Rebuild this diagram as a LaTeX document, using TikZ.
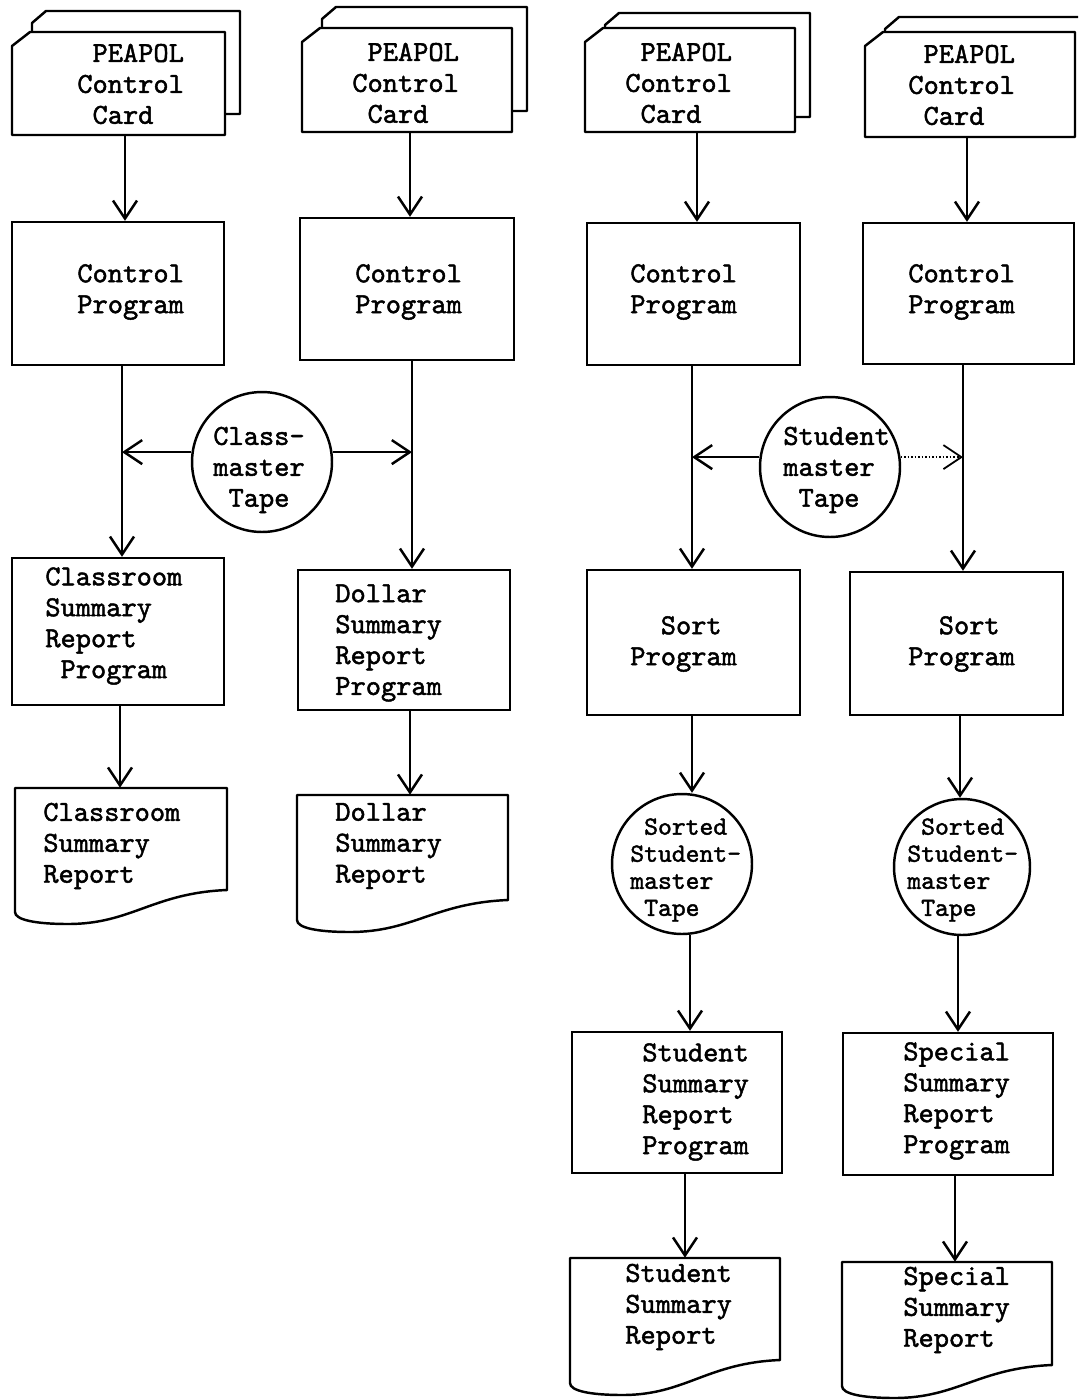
\documentclass[tikz,border=0pt]{standalone}
\usepackage{fontspec}
\newfontfamily\tw{lmmono10-regular.otf}[FakeBold=1.6]
\usetikzlibrary{arrows.meta,fit}
\tikzset{
  shp/.style={line width=1.4pt, line join=round},
  frame/.style={draw, line width=1.4pt, inner sep=0pt},
  tapenode/.style={draw, circle, line width=1.4pt, inner sep=0pt, minimum size=2.8cm},
  flow/.style={line width=1.4pt, -{Straight Barb[length=0.36cm, width=0.48cm]}},
  txt/.style={anchor=west, inner sep=0pt, align=left, font=\tw\fontsize{16.5}{17.6}\selectfont},
  tighttxt/.style={txt, font=\tw\fontsize{15}{15.4}\selectfont},
}
% card: name, L, T, R, B, back offset
\newcommand{\cardshape}[6]{%
  \node[inner sep=0pt, fit={(#2,#3)(#4,#5)}] (#1) {};
  \draw[shp] (#2,#3+14) -- (#2+18,#3) -- (#4,#3) -- (#4,#5) -- (#2,#5) -- cycle;
  \draw[shp] (#2+20,#3) -- (#2+20,#3-#6+12) -- (#2+34,#3-#6) -- (#4+15,#3-#6) -- (#4+15,#5-#6) -- (#4,#5-#6);
}
% document: name, L, T, R, right bottom, left bottom
\newcommand{\docshape}[6]{%
  \node[inner sep=0pt, fit={(#2,#3)(#4,#5)}] (#1) {};
  \pgfmathsetmacro\dw{#4-#2}
  \draw[shp] (#2,#3) -- (#4,#3) -- (#4,#5) .. controls +(-0.35*\dw,3) and +(0.3*\dw,0) .. ({#2+0.25*\dw},{#6+12}) .. controls +(-0.15*\dw,0) and +(0,8) .. (#2,#6) -- cycle;
}
\begin{document}
\begin{tikzpicture}[x=0.02cm, y=-0.02cm]
\fill[white] (0,0) rectangle (1081,1400);
\useasboundingbox (0,0) rectangle (1081,1400);

% x positions of the vertical flow lines
\foreach \xx in {125,122,120,410,412,697,692,690,685,967,963,960,958,955}
  \coordinate (x\xx) at (\xx,0);

% ---------- cards ----------
\cardshape{card1}{12}{32}{225}{135}{21}
\cardshape{card2}{302}{28}{512}{132}{21}
\cardshape{card3}{585}{28}{795}{132}{15}
\node[inner sep=0pt, fit={(865,32)(1075,137)}] (card4) {};
\draw[shp] (865,46) -- (883,32) -- (1075,32) -- (1075,137) -- (865,137) -- cycle;
\draw[shp] (885,32) -- (885,29) -- (899,17) -- (1078,17);

\node[txt] (tc1) at (77,84) {~PEAPOL\\Control\\~Card};
\node[txt] (tc2) at (352,83) {~PEAPOL\\Control\\~Card};
\node[txt] (tc3) at (625,83) {~PEAPOL\\Control\\~Card};
\node[txt] (tc4) at (908,85) {~PEAPOL\\Control\\~Card};

% ---------- control programs ----------
\node[frame, fit={(12,222)(224,365)}] (cp1) {};
\node[frame, fit={(300,218)(514,360)}] (cp2) {};
\node[frame, fit={(587,223)(800,365)}] (cp3) {};
\node[frame, fit={(863,223)(1074,364)}] (cp4) {};
\node[txt] (tp1) at (77,292) {Control\\Program};
\node[txt] (tp2) at (355,292) {Control\\Program};
\node[txt] (tp3) at (630,292) {Control\\Program};
\node[txt] (tp4) at (908,292) {Control\\Program};

% ---------- master tapes ----------
\node[tapenode] (cm) at (262,462) {};
\node[txt] (tcm) at (213,470) {Class-\\master\\~Tape};
\node[tapenode] (sm) at (830,467) {};
\node[txt] (tsm) at (783,470) {Student\\master\\~Tape};

% ---------- second row programs ----------
\node[frame, fit={(12,558)(224,705)}] (crp) {};
\node[txt] (tcrp) at (45,626) {Classroom\\Summary\\Report\\~Program};
\node[frame, fit={(298,570)(510,710)}] (dsp) {};
\node[txt] (tdsp) at (335,643) {Dollar\\Summary\\Report\\Program};
\node[frame, fit={(587,570)(800,715)}] (sort3) {};
\node[txt] (ts3) at (630,644) {~~Sort\\Program};
\node[frame, fit={(850,572)(1063,715)}] (sort4) {};
\node[txt] (ts4) at (908,644) {~~Sort\\Program};

% ---------- reports (left) ----------
\docshape{doc1}{15}{788}{227}{890}{912}
\node[txt] (td1) at (43,846) {Classroom\\Summary\\Report};
\docshape{doc2}{297}{795}{508}{900}{920}
\node[txt] (td2) at (335,846) {Dollar\\Summary\\Report};

% ---------- sorted tapes ----------
\node[tapenode] (st3) at (682,864) {};
\node[tighttxt] (tst3) at (630,870) {~Sorted\\Student-\\master\\~Tape};
\node[tapenode, minimum size=2.72cm] (st4) at (962,867) {};
\node[tighttxt] (tst4) at (907,870) {~Sorted\\Student-\\master\\~Tape};

% ---------- summary programs ----------
\node[frame, fit={(572,1032)(782,1173)}] (ssrp) {};
\node[txt] (tssrp) at (642,1102) {Student\\Summary\\Report\\Program};
\node[frame, fit={(843,1033)(1053,1175)}] (spsrp) {};
\node[txt] (tspsrp) at (903,1101) {Special\\Summary\\Report\\Program};

% ---------- reports (right) ----------
\docshape{doc3}{570}{1258}{780}{1360}{1383}
\node[txt] (td3) at (625,1307) {Student\\Summary\\Report};
\docshape{doc4}{842}{1262}{1052}{1365}{1386}
\node[txt] (td4) at (903,1310) {Special\\Summary\\Report};

% ---------- connectors ----------
\draw[flow] (card1.south -| x125) -- (cp1.north -| x125);
\draw[flow] (cp1.south -| x122) -- (crp.north -| x122);
\draw[flow] (crp.south -| x120) -- (doc1.north -| x120);
\draw[flow] (cm.172) -- (cm.172 -| x122);

\draw[flow] (card2.south -| x410) -- (cp2.north -| x410);
\draw[flow] (cp2.south -| x412) -- (dsp.north -| x412);
\draw[flow] (dsp.south -| x410) -- (doc2.north -| x410);
\draw[flow] (cm.8) -- (cm.8 -| x412);

\draw[flow] (card3.south -| x697) -- (cp3.north -| x697);
\draw[flow] (cp3.south -| x692) -- (sort3.north -| x692);
\draw[flow] (sort3.south -| x692) -- (st3.north -| x692);
\draw[flow] (st3.south -| x690) -- (ssrp.north -| x690);
\draw[flow] (ssrp.south -| x685) -- (doc3.north -| x685);
\draw[flow] (sm.172) -- (sm.172 -| x692);

\draw[flow] (card4.south -| x967) -- (cp4.north -| x967);
\draw[flow] (cp4.south -| x963) -- (sort4.north -| x963);
\draw[flow] (sort4.south -| x960) -- (st4.north -| x960);
\draw[flow] (st4.south -| x958) -- (spsrp.north -| x958);
\draw[flow] (spsrp.south -| x955) -- (doc4.north -| x955);
\draw[flow, line width=1pt, densely dotted] (sm.8) -- (sm.8 -| x963);
\end{tikzpicture}
\end{document}
